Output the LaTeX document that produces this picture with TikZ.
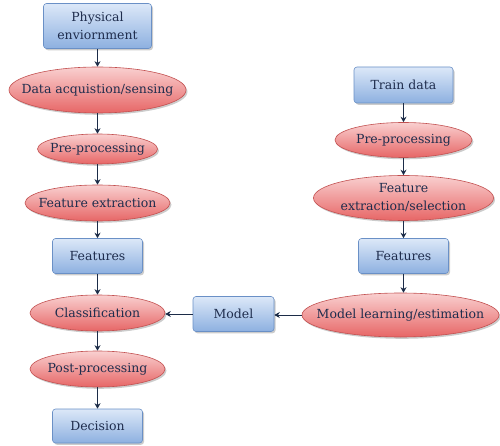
\documentclass[tikz,border=0pt]{standalone}
\usepackage{fontspec}
\setmainfont{DejaVu Serif}
\usetikzlibrary{arrows.meta,shapes.geometric,shadows}
\definecolor{txt}{HTML}{1F2D4D}
\definecolor{arr}{HTML}{1C2C48}
\definecolor{bluetop}{HTML}{DCE8F8}
\definecolor{bluebot}{HTML}{8DB0E0}
\definecolor{bluedraw}{HTML}{6A90C6}
\definecolor{redtop}{HTML}{F9D0D0}
\definecolor{redbot}{HTML}{E76666}
\definecolor{reddraw}{HTML}{C25050}
\tikzset{
  lbl/.style={text=txt, font=\fontsize{12.5}{18}\selectfont, align=center, inner sep=0pt},
  base/.style={lbl, line width=0.6pt,
    drop shadow={shadow xshift=1.5pt, shadow yshift=-1.8pt, fill=black, opacity=0.2}},
  bluebox/.style={base, rectangle, rounded corners=3pt, draw=bluedraw,
    top color=bluetop, bottom color=bluebot},
  redell/.style={base, ellipse, draw=reddraw, top color=redtop, bottom color=redbot},
  conn/.style={draw=arr, line width=1pt, -{Stealth[length=5.5pt,width=6pt]}}
}
\begin{document}
\begin{tikzpicture}[x=1pt,y=-1pt]
\useasboundingbox (0,0) rectangle (500,446);
% left column
\node[bluebox, minimum width=108pt, minimum height=45pt] (phys) at (97.5,26) {Physical\\enviornment};
\node[redell, minimum width=177pt, minimum height=46pt, label={[lbl]center:Data acquistion/sensing}] (daq) at (97.5,90) {};
\node[redell, minimum width=120pt, minimum height=30pt, label={[lbl]center:Pre-processing}] (pre1) at (97.5,149) {};
\node[redell, minimum width=145pt, minimum height=36pt, label={[lbl]center:Feature extraction}] (fext) at (97.5,203) {};
\node[bluebox, minimum width=90pt, minimum height=35pt] (feat1) at (97.5,256) {Features};
\node[redell, minimum width=135pt, minimum height=36pt, label={[lbl]center:Classification}] (cls) at (97.5,313) {};
\node[bluebox, minimum width=81pt, minimum height=35pt] (model) at (233.5,314) {Model};
\node[redell, minimum width=135pt, minimum height=36pt, label={[lbl]center:Post-processing}] (post) at (97.5,369) {};
\node[bluebox, minimum width=90pt, minimum height=34pt] (dec) at (97.5,426) {Decision};
% right column
\node[bluebox, minimum width=99pt, minimum height=36pt] (train) at (403.5,85) {Train data};
\node[redell, minimum width=137pt, minimum height=35pt, label={[lbl]center:Pre-processing}] (pre2) at (403.5,140) {};
\node[redell, minimum width=180pt, minimum height=45pt, label={[lbl]center:Feature\\extraction/selection}] (fsel) at (403.5,198) {};
\node[bluebox, minimum width=90pt, minimum height=35pt] (feat2) at (403.5,256) {Features};
\node[redell, minimum width=197pt, minimum height=44pt, label={[lbl]center:Model learning/estimation}] (ml) at (400.5,315) {};
% connectors
\draw[conn] (phys) -- (daq);
\draw[conn] (daq) -- (pre1);
\draw[conn] (pre1) -- (fext);
\draw[conn] (fext) -- (feat1);
\draw[conn] (feat1) -- (cls);
\draw[conn] (cls) -- (post);
\draw[conn] (post) -- (dec);
\draw[conn] (model.west) -- (cls.east |- model.west);
\draw[conn] (ml.west) -- (model.east |- ml.west);
\draw[conn] (train) -- (pre2);
\draw[conn] (pre2) -- (fsel);
\draw[conn] (fsel) -- (feat2);
\draw[conn] (feat2.south) -- (feat2.south |- ml.north);
\end{tikzpicture}
\end{document}
